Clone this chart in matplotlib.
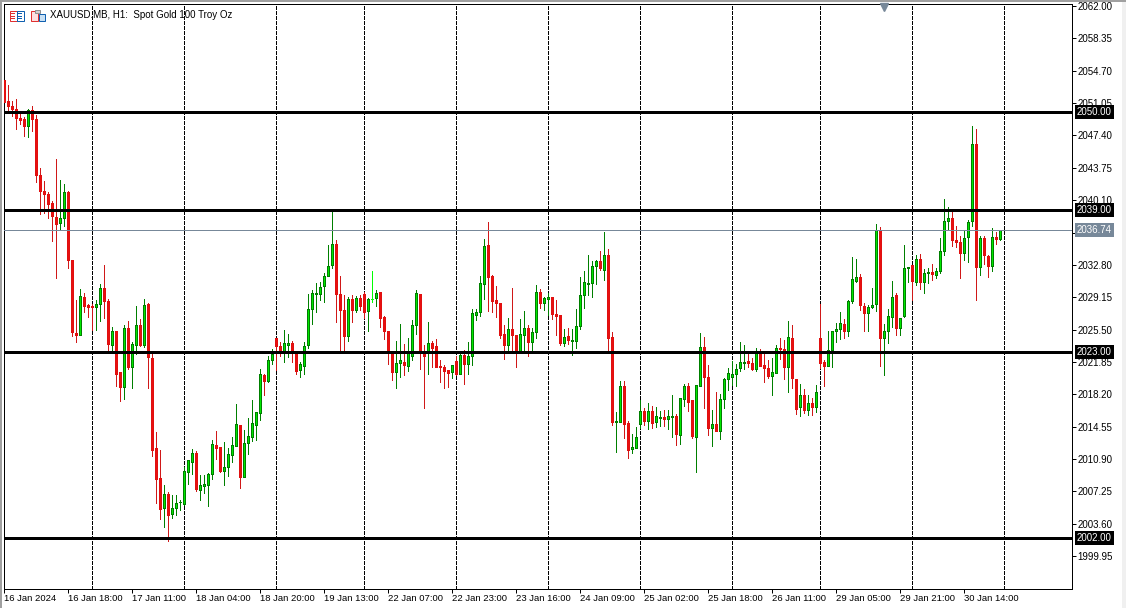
import matplotlib
matplotlib.use("Agg")
import matplotlib.pyplot as plt
from matplotlib.patches import Rectangle

# XAUUSD H1 candles, one row per 10 bars
# g = up bar, r = down bar, l = the lone bright doji
directions = ("rrrrrrgrrr" "rrrrggrrrg" "rrrggrrgrr" "grggrgrrrr" "grggggggrg"
              "gggrrggggr" "gggggrggrr" "ggrrgggggg" "gggrrrgrgr" "rglgrrrrgg"
              "rgggrrgrrr" "rrgrgrgggg" "grrrrrgrrg" "grggrggrrr" "grgggggggr"
              "grrggrrggg" "rgrggrggrg" "grrggrrgrg" "ggggggrrgr" "rrggrrgrrg"
              "rgrgrrgggg" "rgggrrgggr" "gggrgggrgr" "ggrggggrrr" "gggrgrrgrg")

highs = [2054.05, 2053.14, 2051.34, 2051.56, 2049.98, 2049.50, 2050.43, 2050.77, 2049.76, 2043.77,
         2042.27, 2040.98, 2039.97, 2044.79, 2042.42, 2041.93, 2041.18, 2033.40, 2028.87, 2030.11,
         2029.63, 2028.42, 2028.42, 2028.79, 2030.68, 2032.82, 2028.98, 2025.82, 2025.37, 2020.74,
         2026.05, 2026.50, 2024.16, 2028.19, 2026.69, 2028.98, 2028.50, 2022.85, 2013.93, 2011.93,
         2007.98, 2007.19, 2006.85, 2006.85, 2006.29, 2010.05, 2010.81, 2012.05, 2011.82, 2009.11,
         2009.11, 2009.30, 2013.06, 2014.08, 2012.27, 2012.80, 2012.16, 2013.44, 2017.13, 2014.76,
         2014.19, 2015.55, 2017.58, 2016.26, 2021.08, 2020.52, 2022.47, 2023.30, 2024.58, 2024.16,
         2025.48, 2025.03, 2024.24, 2022.89, 2021.84, 2024.13, 2029.55, 2030.00, 2030.76, 2030.82,
         2031.88, 2035.08, 2038.84, 2035.64, 2031.58, 2029.43, 2029.18, 2029.43, 2029.32, 2029.43,
         2029.69, 2029.10, 2032.07, 2030.00, 2029.77, 2027.03, 2025.37, 2023.00, 2024.24, 2026.16,
         2023.90, 2024.50, 2026.53, 2030.00, 2029.55, 2023.79, 2026.39, 2024.27, 2024.47, 2022.10,
         2021.53, 2020.97, 2021.53, 2022.55, 2022.92, 2023.22, 2024.09, 2027.82, 2027.82, 2031.58,
         2035.72, 2037.68, 2031.66, 2030.45, 2028.53, 2026.05, 2026.80, 2030.22, 2024.92, 2026.72,
         2027.63, 2025.97, 2025.71, 2030.56, 2030.11, 2029.13, 2029.63, 2029.21, 2028.87, 2027.18,
         2025.60, 2025.68, 2025.60, 2027.85, 2031.43, 2032.14, 2033.95, 2033.19, 2033.39, 2034.40,
         2036.55, 2034.63, 2025.22, 2016.19, 2019.69, 2019.69, 2015.21, 2013.71, 2014.50, 2017.55,
         2016.68, 2017.21, 2016.90, 2016.79, 2016.34, 2016.45, 2016.45, 2018.14, 2016.00, 2017.84,
         2019.42, 2019.46, 2017.55, 2019.27, 2025.11, 2024.69, 2021.53, 2016.42, 2018.45, 2018.22,
         2020.10, 2021.16, 2021.98, 2021.64, 2024.09, 2023.79, 2022.77, 2022.32, 2023.42, 2023.30,
         2022.74, 2022.10, 2022.29, 2023.79, 2024.58, 2024.35, 2026.47, 2026.01, 2019.95, 2019.39,
         2018.82, 2018.14, 2017.81, 2019.27, 2028.42, 2022.02, 2025.37, 2025.37, 2026.27, 2027.48,
         2026.72, 2028.87, 2033.69, 2033.50, 2031.80, 2028.50, 2028.30, 2030.19, 2037.42, 2037.08,
         2026.16, 2027.82, 2031.01, 2029.66, 2026.84, 2035.08, 2032.60, 2032.79, 2033.95, 2033.98,
         2032.37, 2032.40, 2032.93, 2032.45, 2035.84, 2040.27, 2039.37, 2038.73, 2037.15, 2036.02,
         2036.58, 2037.90, 2048.51, 2048.18, 2036.02, 2036.10, 2033.87, 2037.00, 2036.55, 2036.77]

body_tops = [2053.71, 2051.26, 2050.77, 2050.40, 2049.42, 2049.30, 2050.32, 2050.32, 2049.30, 2042.95,
             2041.14, 2040.80, 2039.82, 2038.21, 2038.09, 2041.03, 2041.03, 2033.31, 2025.14, 2029.32,
             2029.18, 2028.27, 2028.11, 2028.42, 2030.19, 2030.19, 2028.76, 2025.34, 2025.34, 2020.71,
             2025.71, 2025.71, 2023.87, 2026.01, 2026.05, 2028.27, 2028.42, 2022.29, 2012.13, 2008.77,
             2006.93, 2006.93, 2005.35, 2005.92, 2006.10, 2009.53, 2010.77, 2011.56, 2011.56, 2007.95,
             2008.06, 2009.23, 2012.58, 2012.50, 2012.27, 2010.02, 2011.45, 2012.47, 2014.84, 2014.76,
             2012.69, 2013.48, 2014.95, 2016.19, 2020.48, 2020.40, 2022.06, 2022.77, 2024.55, 2023.68,
             2023.98, 2023.98, 2024.01, 2022.85, 2021.57, 2023.68, 2027.85, 2029.63, 2029.66, 2030.30,
             2031.55, 2032.67, 2035.16, 2035.16, 2029.51, 2027.74, 2028.95, 2028.95, 2029.06, 2029.06,
             2029.51, 2028.95, 2028.98, 2029.66, 2029.77, 2026.92, 2025.37, 2022.89, 2021.72, 2022.06,
             2021.84, 2022.85, 2026.01, 2029.63, 2029.55, 2022.92, 2023.98, 2023.98, 2023.68, 2021.42,
             2021.31, 2020.93, 2021.50, 2021.98, 2022.66, 2022.66, 2022.55, 2027.37, 2027.48, 2030.79,
             2034.93, 2035.08, 2031.58, 2028.84, 2028.53, 2025.00, 2025.56, 2025.56, 2024.92, 2025.00,
             2025.68, 2025.68, 2025.22, 2029.74, 2029.74, 2029.06, 2029.18, 2029.21, 2027.29, 2027.18,
             2024.66, 2024.81, 2024.35, 2025.90, 2029.40, 2030.87, 2030.79, 2032.71, 2033.27, 2033.27,
             2033.95, 2033.95, 2024.69, 2015.21, 2019.13, 2019.13, 2014.98, 2012.27, 2013.37, 2016.30,
             2016.30, 2016.30, 2016.30, 2015.74, 2015.63, 2015.66, 2015.74, 2015.77, 2015.77, 2017.77,
             2019.16, 2019.16, 2017.55, 2019.24, 2023.53, 2023.53, 2020.18, 2014.84, 2014.84, 2017.66,
             2019.95, 2020.60, 2020.48, 2021.05, 2021.84, 2021.84, 2021.98, 2021.72, 2022.85, 2022.89,
             2021.53, 2021.16, 2020.71, 2023.42, 2023.45, 2023.30, 2024.66, 2024.58, 2019.95, 2018.11,
             2018.11, 2017.21, 2017.21, 2018.45, 2024.58, 2021.87, 2023.19, 2025.34, 2025.56, 2026.24,
             2026.16, 2028.72, 2031.21, 2031.43, 2031.43, 2028.16, 2028.00, 2028.27, 2036.77, 2036.66,
             2025.34, 2027.03, 2029.18, 2029.43, 2026.80, 2032.45, 2032.56, 2032.79, 2033.50, 2033.50,
             2031.88, 2032.00, 2032.00, 2032.11, 2034.37, 2037.75, 2038.09, 2038.09, 2035.61, 2035.38,
             2035.84, 2037.64, 2046.48, 2046.48, 2035.87, 2035.87, 2033.80, 2035.98, 2035.98, 2036.74]

body_bottoms = [2051.22, 2050.69, 2050.43, 2049.34, 2049.19, 2048.44, 2048.44, 2049.23, 2042.90, 2041.10,
                2040.76, 2039.63, 2038.27, 2037.37, 2037.48, 2038.09, 2033.31, 2025.18, 2024.95, 2024.95,
                2028.11, 2028.05, 2028.00, 2028.00, 2028.34, 2028.68, 2023.90, 2023.82, 2020.55, 2019.08,
                2019.08, 2021.31, 2021.23, 2023.71, 2023.71, 2023.71, 2022.36, 2011.97, 2008.69, 2005.31,
                2005.42, 2004.63, 2004.71, 2005.42, 2006.03, 2005.87, 2009.48, 2010.61, 2007.53, 2007.45,
                2007.84, 2008.02, 2009.19, 2012.20, 2009.56, 2009.60, 2010.05, 2011.40, 2012.42, 2008.92,
                2008.92, 2012.73, 2013.44, 2014.79, 2016.15, 2019.65, 2019.65, 2022.13, 2023.60, 2023.00,
                2022.85, 2023.79, 2022.97, 2020.85, 2020.89, 2021.45, 2023.71, 2027.78, 2029.47, 2029.55,
                2030.37, 2031.55, 2032.74, 2029.47, 2027.66, 2024.73, 2024.73, 2027.74, 2027.74, 2028.11,
                2027.44, 2027.55, 2028.93, 2029.02, 2026.84, 2025.29, 2022.89, 2020.77, 2020.77, 2021.68,
                2021.53, 2021.45, 2022.58, 2026.01, 2022.92, 2022.58, 2023.00, 2023.48, 2021.34, 2021.23,
                2020.86, 2020.66, 2020.77, 2020.52, 2020.55, 2021.57, 2021.57, 2022.58, 2027.18, 2027.44,
                2030.60, 2031.47, 2028.76, 2028.53, 2024.92, 2023.79, 2023.82, 2024.84, 2023.03, 2023.03,
                2024.95, 2024.05, 2024.16, 2025.18, 2028.45, 2028.45, 2028.90, 2027.29, 2027.06, 2024.01,
                2024.01, 2024.35, 2024.27, 2024.27, 2025.86, 2029.36, 2030.60, 2030.71, 2032.71, 2032.48,
                2032.26, 2024.61, 2015.13, 2015.13, 2015.13, 2014.91, 2011.97, 2012.01, 2012.19, 2014.84,
                2015.24, 2015.24, 2015.02, 2015.13, 2015.55, 2015.47, 2015.47, 2015.69, 2013.78, 2013.66,
                2017.73, 2017.39, 2013.52, 2013.44, 2019.19, 2020.21, 2014.45, 2014.45, 2014.11, 2014.11,
                2017.73, 2019.98, 2020.21, 2020.55, 2021.16, 2021.68, 2021.76, 2021.11, 2021.11, 2021.45,
                2021.19, 2020.32, 2020.32, 2020.66, 2023.26, 2021.23, 2021.23, 2020.10, 2016.60, 2016.82,
                2016.45, 2016.49, 2016.82, 2016.82, 2021.76, 2021.45, 2021.45, 2023.15, 2025.29, 2025.52,
                2025.29, 2025.29, 2028.68, 2031.01, 2028.23, 2027.32, 2027.32, 2028.00, 2028.38, 2024.61,
                2024.50, 2025.29, 2026.92, 2025.63, 2025.63, 2027.06, 2032.40, 2030.94, 2030.90, 2030.90,
                2030.90, 2031.84, 2031.73, 2031.61, 2032.07, 2034.32, 2037.75, 2035.56, 2035.42, 2034.18,
                2034.18, 2035.90, 2037.71, 2032.52, 2032.52, 2033.87, 2032.63, 2032.63, 2035.76, 2035.76]

lows = [2051.00, 2050.10, 2049.57, 2048.18, 2048.74, 2047.31, 2047.19, 2047.87, 2042.11, 2038.50,
        2038.69, 2038.09, 2035.45, 2031.27, 2036.77, 2037.22, 2032.40, 2024.80, 2024.05, 2024.84,
        2027.52, 2026.95, 2025.48, 2025.48, 2026.50, 2026.84, 2023.22, 2022.89, 2019.16, 2017.50,
        2017.73, 2021.05, 2018.86, 2022.70, 2023.60, 2023.53, 2018.97, 2011.29, 2005.99, 2004.18,
        2003.28, 2001.70, 2004.29, 2004.60, 2005.16, 2005.73, 2008.10, 2009.23, 2007.31, 2006.29,
        2007.05, 2005.61, 2008.63, 2010.92, 2009.45, 2007.98, 2009.00, 2010.61, 2012.39, 2007.64,
        2008.89, 2011.52, 2012.99, 2013.06, 2015.32, 2018.14, 2019.61, 2021.64, 2020.89, 2022.55,
        2021.90, 2022.36, 2021.87, 2020.52, 2020.21, 2020.48, 2023.42, 2026.08, 2027.44, 2028.79,
        2028.57, 2031.50, 2032.40, 2026.31, 2023.03, 2023.03, 2024.27, 2026.31, 2027.44, 2027.66,
        2026.80, 2025.29, 2028.57, 2028.19, 2025.82, 2024.47, 2021.64, 2019.84, 2018.97, 2020.21,
        2020.40, 2020.86, 2022.10, 2025.06, 2021.08, 2016.68, 2020.52, 2021.34, 2021.23, 2019.61,
        2018.94, 2019.08, 2020.06, 2020.40, 2020.52, 2019.38, 2020.52, 2021.53, 2026.53, 2027.06,
        2028.95, 2027.63, 2027.48, 2026.87, 2024.61, 2022.21, 2023.03, 2023.11, 2021.23, 2023.00,
        2023.03, 2022.47, 2023.03, 2024.61, 2027.97, 2027.74, 2027.18, 2026.72, 2024.92, 2023.79,
        2023.60, 2023.90, 2022.66, 2023.48, 2025.56, 2027.98, 2029.43, 2029.13, 2030.68, 2032.26,
        2031.13, 2023.03, 2014.76, 2011.74, 2015.10, 2013.29, 2011.07, 2011.63, 2012.13, 2014.45,
        2014.79, 2014.34, 2014.45, 2014.57, 2014.68, 2014.64, 2014.31, 2013.44, 2012.50, 2012.61,
        2016.90, 2016.34, 2013.29, 2009.48, 2019.16, 2016.71, 2013.63, 2012.39, 2014.08, 2013.21,
        2016.71, 2018.71, 2019.27, 2019.19, 2020.86, 2021.11, 2021.23, 2020.93, 2020.86, 2021.42,
        2019.61, 2020.06, 2018.07, 2020.63, 2022.21, 2019.95, 2018.52, 2018.97, 2016.03, 2015.81,
        2016.08, 2015.89, 2015.89, 2016.26, 2021.19, 2019.19, 2021.42, 2021.34, 2024.05, 2024.43,
        2024.61, 2024.73, 2028.50, 2030.82, 2027.66, 2025.37, 2025.29, 2027.97, 2027.55, 2021.45,
        2020.40, 2023.98, 2025.79, 2024.95, 2024.92, 2026.98, 2030.82, 2028.87, 2030.56, 2030.11,
        2029.66, 2030.76, 2031.05, 2031.32, 2031.88, 2033.87, 2036.77, 2034.89, 2034.85, 2031.27,
        2033.39, 2033.08, 2037.15, 2028.87, 2031.61, 2032.93, 2031.39, 2032.14, 2035.19, 2035.65]

level_prices = [2050.00, 2039.00, 2023.00, 2002.00]
last_price = 2036.74
grid_bars = [22, 45, 68, 90, 113, 136, 159, 182, 204, 227, 250]

price_ticks = [2062.00, 2058.35, 2054.70, 2051.05, 2047.40, 2043.75, 2040.10, 2036.45, 2032.80,
               2029.15, 2025.50, 2021.85, 2018.20, 2014.55, 2010.90, 2007.25, 2003.60, 1999.95]
time_labels = ["16 Jan 2024", "16 Jan 18:00", "17 Jan 11:00", "18 Jan 04:00", "18 Jan 20:00",
               "19 Jan 13:00", "22 Jan 07:00", "22 Jan 23:00", "23 Jan 16:00", "24 Jan 09:00",
               "25 Jan 02:00", "25 Jan 18:00", "26 Jan 11:00", "29 Jan 05:00", "29 Jan 21:00",
               "30 Jan 14:00"]
time_bars = list(range(0, 256, 16))

W, H = 1126, 608
PX = 72 / 100  # one pixel in points at dpi 100
plt.rcParams['font.family'] = ['Liberation Sans', 'DejaVu Sans']

fig = plt.figure(figsize=(W / 100, H / 100), dpi=100, facecolor='white')
ax = fig.add_axes([4 / W, 1 - 588.5 / H, 1068 / W, 584.5 / H])
ax.set_xlim(-0.075, 266.925)
ax.set_ylim(1996.30, 2062.23)

# dashed time grid goes under the candles
for b in grid_bars:
    ax.axvline(b, color='black', lw=PX, ls=(0, (3, 2)), zorder=1, antialiased=False)

for i, d in enumerate(directions):
    if d == 'l':
        wick, edge, fill = '#00ff00', '#00ff00', '#00ff00'
    elif d == 'g':
        wick, edge, fill = '#007f00', '#007f00', '#00e800'
    else:
        wick, edge, fill = '#d01818', '#e01010', '#e81010'
    ax.vlines(i, lows[i], highs[i], color=wick, lw=PX, zorder=2, antialiased=False)
    ax.bar(i, body_tops[i] - body_bottoms[i], bottom=body_bottoms[i], width=0.5,
           facecolor=fill, edgecolor=edge, linewidth=PX, zorder=3, antialiased=False)

# horizontal levels sit on top of the candles
for p in level_prices:
    ax.axhline(p, color='black', lw=3 * PX, zorder=4, antialiased=False)
    ax.annotate(f"{p:.2f}", xy=(1, p), xycoords=ax.get_yaxis_transform(),
                xytext=(5 * PX, 0), textcoords='offset points', va='center', ha='left',
                color='white', fontsize=7, zorder=10, annotation_clip=False,
                bbox=dict(boxstyle='square,pad=0.2', fc='black', ec='none'))
ax.axhline(last_price, color='#778899', lw=PX, zorder=4, antialiased=False)
ax.annotate(f"{last_price:.2f}", xy=(1, last_price), xycoords=ax.get_yaxis_transform(),
            xytext=(5 * PX, 0), textcoords='offset points', va='center', ha='left',
            color='white', fontsize=7, zorder=10, annotation_clip=False,
            bbox=dict(boxstyle='square,pad=0.2', fc='#778899', ec='none'))

ax.yaxis.tick_right()
ax.set_yticks(price_ticks)
ax.set_yticklabels([f"{p:.2f}" for p in price_ticks])
ax.set_xticks(time_bars)
ax.set_xticklabels(time_labels, ha='left')
ax.tick_params(axis='y', length=4 * PX, width=PX, pad=1, labelsize=7)
ax.tick_params(axis='x', length=4 * PX, width=PX, pad=1, labelsize=6.8)
for s in ax.spines.values():
    s.set_linewidth(PX)
ax.spines['right'].set_zorder(5)

# little marker at the top edge of the chart
ax.plot([220], [2061.9], marker='v', color='#778899', ms=6 * PX * 1.2, clip_on=False, zorder=6)

ax.text(50, H - 15, "XAUUSD.MB, H1:  Spot Gold 100 Troy Oz", transform=None,
        fontsize=7, va='center', ha='left', color='black', zorder=10)


def px_rect(x, y, w, h, fc, ec='none'):
    fig.add_artist(Rectangle((x, H - y - h), w, h, transform=None, fc=fc, ec=ec, lw=PX))


# window edge and background strips
px_rect(0, 0, W, 2, '#a0a0a0')
px_rect(0, 0, 2, H, '#a0a0a0')
px_rect(1122, 2, 4, H, '#f0f0f0')

# the two small toolbar icons
px_rect(9.5, 10.5, 7, 10, 'white', '#e03030')
px_rect(16.5, 10.5, 7, 10, 'white', '#1060b0')
for yy in [13, 15.5, 18]:
    px_rect(11, yy, 4, 1, '#e03030')
    px_rect(18, yy, 4, 1, '#1060b0')
px_rect(30.5, 10.5, 7, 10, '#fde0e0', '#e03030')
px_rect(38.5, 13.5, 6, 7, '#c8e0f4', '#1060b0')
px_rect(35, 10, 5, 3, '#d0d0d0', '#909090')

fig.savefig("out.png", dpi=100)
